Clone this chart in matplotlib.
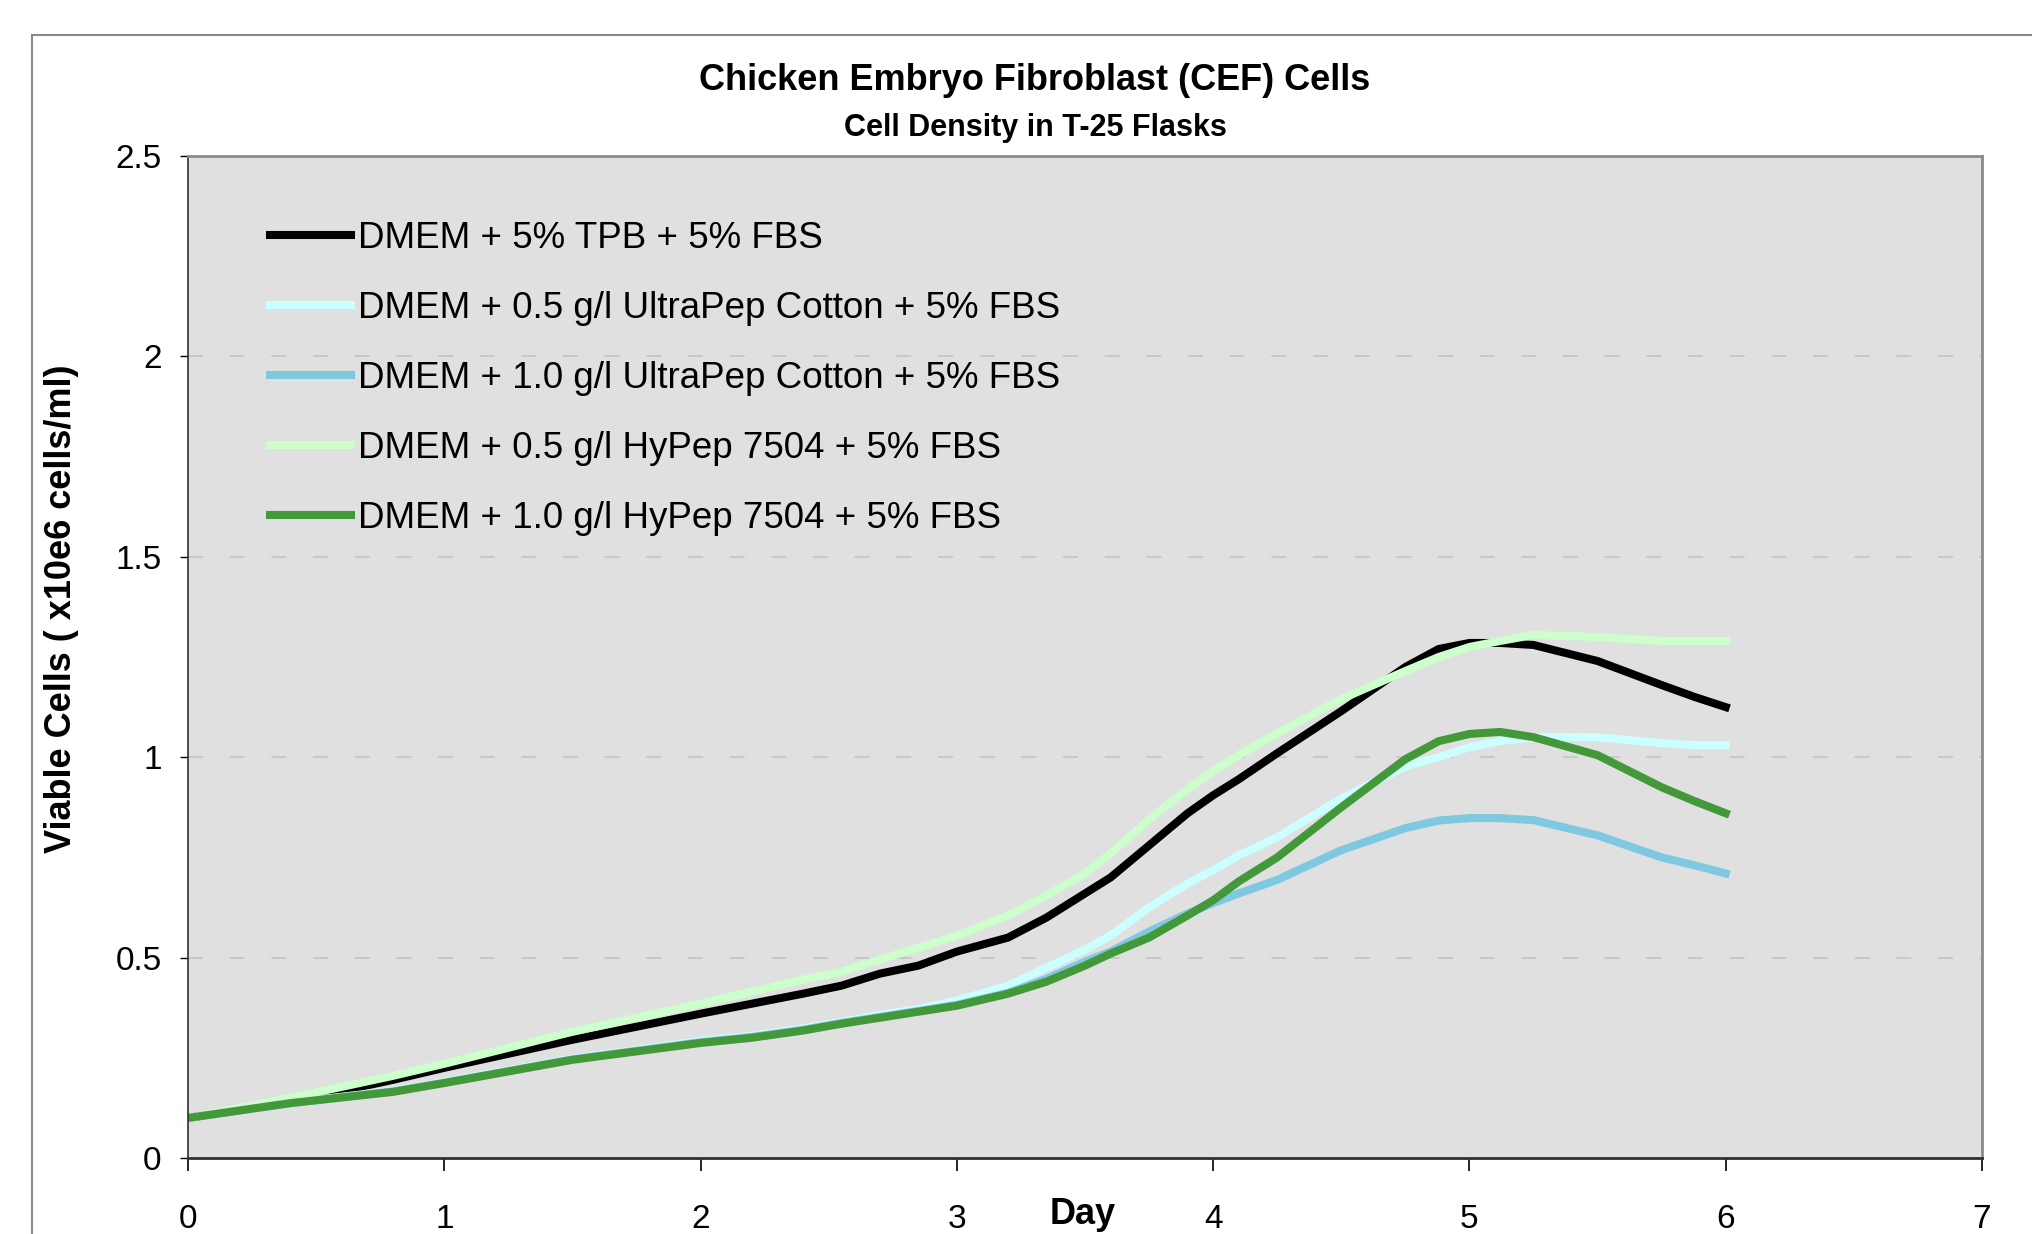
import matplotlib
matplotlib.use('Agg')
import matplotlib.pyplot as plt
from matplotlib.patches import Rectangle

plt.rcParams['font.family'] = ['Liberation Sans', 'DejaVu Sans']

# days of measurement
days = [0, 0.4, 0.8, 1.0, 1.5, 2.0, 2.2, 2.4, 2.55, 2.7, 2.85, 3.0, 3.2, 3.35, 3.5,
        3.6, 3.75, 3.9, 4.0, 4.1, 4.25, 4.5, 4.75, 4.88, 5.0, 5.12, 5.25, 5.5,
        5.75, 5.88, 6.0]

# viable cells (x10e6 cells/ml)
tpb = [0.10, 0.14, 0.195, 0.225, 0.295, 0.36, 0.385, 0.41, 0.43, 0.46, 0.48, 0.515,
       0.55, 0.60, 0.66, 0.70, 0.78, 0.86, 0.905, 0.945, 1.01, 1.115, 1.225, 1.27,
       1.285, 1.285, 1.28, 1.24, 1.18, 1.15, 1.125]
ultra05 = [0.10, 0.138, 0.168, 0.19, 0.248, 0.292, 0.305, 0.323, 0.34, 0.357, 0.372,
           0.393, 0.43, 0.475, 0.52, 0.555, 0.625, 0.685, 0.718, 0.755, 0.80, 0.897,
           0.977, 1.0, 1.025, 1.04, 1.05, 1.05, 1.035, 1.03, 1.03]
ultra10 = [0.10, 0.137, 0.166, 0.188, 0.246, 0.289, 0.302, 0.32, 0.337, 0.352, 0.367,
           0.382, 0.412, 0.447, 0.49, 0.515, 0.565, 0.61, 0.636, 0.66, 0.694, 0.768,
           0.823, 0.842, 0.848, 0.848, 0.843, 0.805, 0.75, 0.73, 0.71]
hypep05 = [0.10, 0.15, 0.205, 0.235, 0.315, 0.385, 0.415, 0.445, 0.465, 0.495, 0.525,
           0.555, 0.605, 0.655, 0.71, 0.76, 0.845, 0.92, 0.965, 1.005, 1.06, 1.145,
           1.215, 1.25, 1.275, 1.29, 1.305, 1.30, 1.29, 1.29, 1.29]
hypep10 = [0.10, 0.137, 0.165, 0.187, 0.245, 0.287, 0.30, 0.318, 0.335, 0.35, 0.365,
           0.38, 0.41, 0.44, 0.48, 0.51, 0.55, 0.605, 0.643, 0.69, 0.75, 0.875, 0.995,
           1.04, 1.058, 1.063, 1.05, 1.005, 0.925, 0.89, 0.86]

labels = ['DMEM + 5% TPB + 5% FBS',
          'DMEM + 0.5 g/l UltraPep Cotton + 5% FBS',
          'DMEM + 1.0 g/l UltraPep Cotton + 5% FBS',
          'DMEM + 0.5 g/l HyPep 7504 + 5% FBS',
          'DMEM + 1.0 g/l HyPep 7504 + 5% FBS']
colors = ['#000000', '#CCFFFF', '#7EC8E0', '#CCFFCC', '#43983A']
series = [tpb, ultra05, ultra10, hypep05, hypep10]

fig = plt.figure(figsize=(20.33, 12.34), dpi=100)
ax = fig.add_axes([188/2033, 76/1234, 1794/2033, 1002/1234])
ax.set_facecolor('#E0E0E0')

for s, c, l in zip(series, colors, labels):
    ax.plot(days, s, color=c, lw=5.8, label=l, solid_joinstyle='miter')

ax.set_xlim(0, 7)
ax.set_ylim(0, 2.5)
ax.set_xticks(range(0, 8))
ax.set_yticks([0, 0.5, 1, 1.5, 2, 2.5])
ax.set_yticklabels(['0', '0.5', '1', '1.5', '2', '2.5'])
for yv in [0.5, 1, 1.5, 2]:
    ax.axhline(yv, color='#C4C4C4', lw=1.2, ls=(0, (9, 16)), zorder=0.5)

ax.tick_params(axis='x', direction='out', length=9, width=1.2, pad=24, labelsize=24)
ax.tick_params(axis='y', direction='out', length=6, width=1, pad=13, labelsize=24)
for side in ['top', 'right']:
    ax.spines[side].set_color('#8a8a8a')
    ax.spines[side].set_linewidth(2)
ax.spines['left'].set_color('#303030')
ax.spines['left'].set_linewidth(1.2)
ax.spines['bottom'].set_color('#303030')
ax.spines['bottom'].set_linewidth(2)

leg = ax.legend(loc='upper left', bbox_to_anchor=(0.0457, 0.935), frameon=False,
                fontsize=26.5, handlelength=2.2, handletextpad=0.2,
                labelspacing=0.95, borderpad=0, borderaxespad=0)

fig.text(1035/2033, 1 - 80/1234, 'Chicken Embryo Fibroblast (CEF) Cells',
         ha='center', va='center', fontsize=26, fontweight='bold')
fig.text(1035/2033, 1 - 128/1234, 'Cell Density in T-25 Flasks',
         ha='center', va='center', fontsize=22, fontweight='bold')
fig.text(62/2033, 1 - 609/1234, 'Viable Cells ( x10e6 cells/ml)', rotation=90,
         ha='center', va='center', fontsize=26, fontweight='bold')
fig.text(1083/2033, 1 - 1215/1234, 'Day', ha='center', va='center',
         fontsize=26, fontweight='bold')

# outer chart frame
fig.patches.append(Rectangle((32/2033, -0.1), 1.0, (1234 - 35)/1234 + 0.1,
                             transform=fig.transFigure, fill=False,
                             edgecolor='#8a8a8a', lw=1.5))

fig.savefig('out.png', dpi=100)
